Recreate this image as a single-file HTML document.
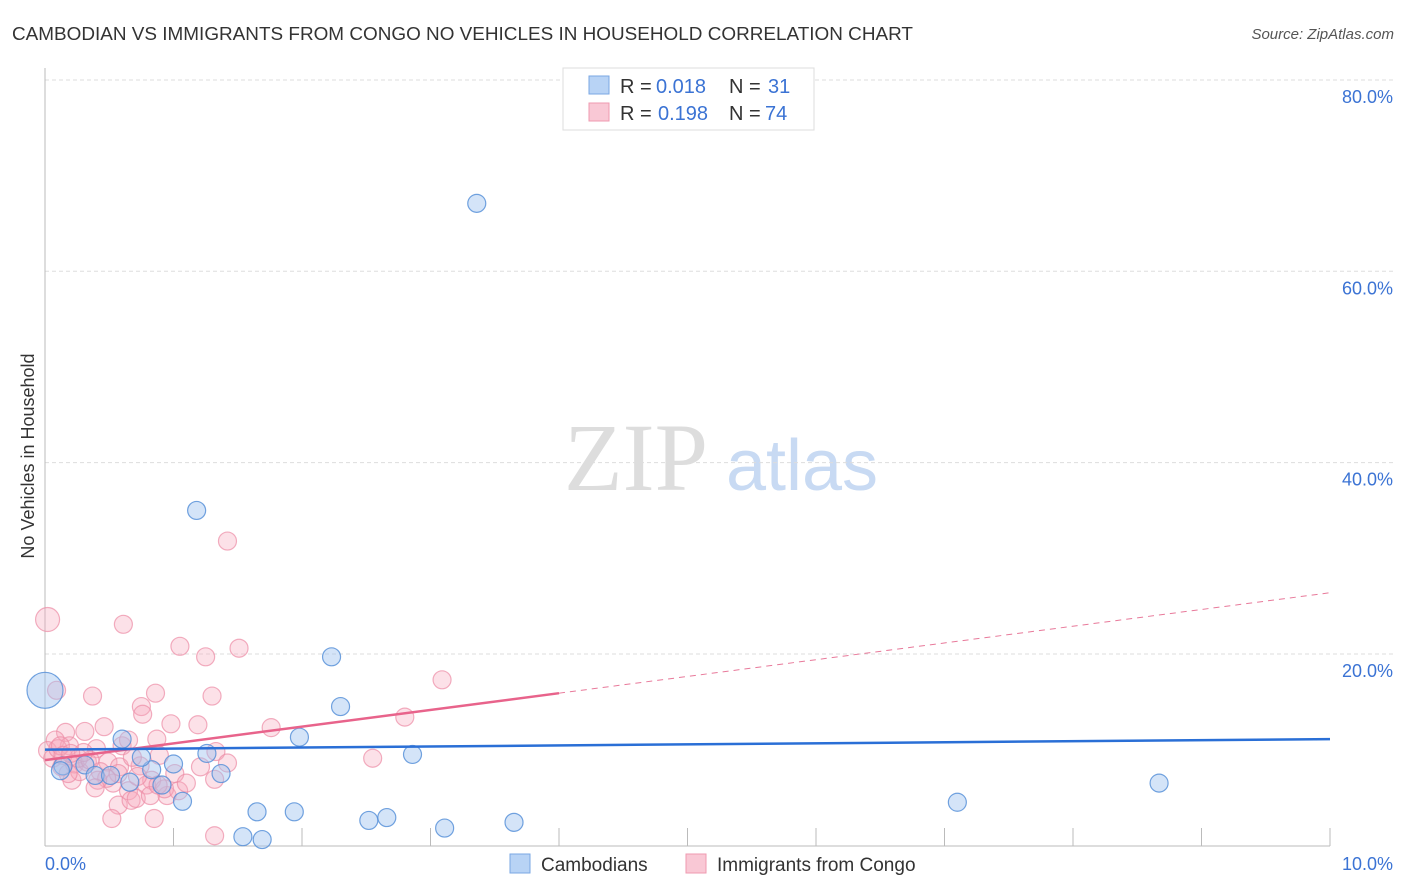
<!DOCTYPE html>
<html><head><meta charset="utf-8"><style>
body{margin:0;background:#fff;font-family:"Liberation Sans",sans-serif;}
svg{display:block}
</style></head><body>
<svg id="chart" width="1406" height="892" xmlns="http://www.w3.org/2000/svg">
<text x="12" y="40" font-size="18" fill="#333" textLength="901" lengthAdjust="spacingAndGlyphs">CAMBODIAN VS IMMIGRANTS FROM CONGO NO VEHICLES IN HOUSEHOLD CORRELATION CHART</text>
<text x="1394" y="39" font-size="15" fill="#555" font-style="italic" text-anchor="end">Source: ZipAtlas.com</text>
<text x="636" y="490" font-size="96" fill="#ddd" font-family="Liberation Serif, serif" text-anchor="middle">ZIP</text>
<text x="802" y="490" font-size="72" fill="#c8daf3" text-anchor="middle">atlas</text>
<text transform="translate(34,456) rotate(-90)" font-size="18" fill="#333" text-anchor="middle">No Vehicles in Household</text>
<g id="grid"></g><g id="marks"></g>
<g>
<rect x="563" y="68" width="251" height="62" fill="#fff" stroke="#ddd"/>
<rect x="589" y="76" width="20" height="18" fill="#b8d3f5" stroke="#7aa7e3"/>
<text x="620" y="93" font-size="20" fill="#333">R =</text>
<text x="656" y="93" font-size="20" fill="#3b73d4">0.018</text>
<text x="729" y="93" font-size="20" fill="#333">N =</text>
<text x="768" y="93" font-size="20" fill="#3b73d4">31</text>
<rect x="589" y="103" width="20" height="18" fill="#f9c8d5" stroke="#ef9ab0"/>
<text x="620" y="120" font-size="20" fill="#333">R =</text>
<text x="658" y="120" font-size="20" fill="#3b73d4">0.198</text>
<text x="729" y="120" font-size="20" fill="#333">N =</text>
<text x="765" y="120" font-size="20" fill="#3b73d4">74</text>
</g>
<g>
<rect x="510" y="854" width="20" height="19" fill="#b8d3f5" stroke="#7aa7e3"/>
<text x="541" y="871" font-size="19" fill="#333">Cambodians</text>
<rect x="686" y="854" width="20" height="19" fill="#f9c8d5" stroke="#ef9ab0"/>
<text x="717" y="871" font-size="19" fill="#333">Immigrants from Congo</text>
</g>
</svg>
<script>
const yTicks=[20,40,60,80];
const yTickLabels=["20.0%","40.0%","60.0%","80.0%"];
const xTicks=[1,2,3,4,5,6,7,8,9,10];
const xEndLabels=["0.0%","10.0%"];
const blueX=[3.36,1.18,2.23,2.30,1.98,2.86,1.26,1.37,1.07,1.65,1.94,2.52,2.66,3.11,3.65,1.54,1.69,7.10,8.67,0.0,0.60,0.83,1.00,0.91,0.14,0.31,0.39,0.51,0.66,0.75,0.12];
const blueY=[67.1,35.0,19.7,14.5,11.3,9.5,9.6,7.5,4.6,3.5,3.5,2.6,2.9,1.8,2.4,0.9,0.6,4.5,6.5,16.2,11.1,7.9,8.5,6.3,8.3,8.4,7.3,7.3,6.6,9.2,7.8];
const pinkX=[0.02,0.61,1.42,1.05,1.25,1.51,3.09,0.09,0.37,0.86,0.75,1.30,0.76,0.98,1.19,1.76,2.80,0.16,0.08,0.31,0.19,0.40,0.46,0.60,0.65,0.87,1.33,2.55,1.32,1.42,1.01,0.83,0.02,0.06,0.13,0.21,0.23,0.33,0.27,0.49,0.53,0.57,0.65,0.67,0.79,0.95,0.52,0.85,1.32,0.10,0.43,0.58,0.18,0.71,0.93,0.26,0.57,0.12,0.35,0.74,0.48,1.21,1.04,0.89,0.41,0.30,0.82,0.68,0.88,0.14,0.39,0.72,1.10,0.20];
const pinkY=[23.6,23.1,31.8,20.8,19.7,20.6,17.3,16.2,15.6,15.9,14.5,15.6,13.7,12.7,12.6,12.3,13.4,11.8,11.0,11.9,10.4,10.1,12.4,10.4,11.0,11.1,9.8,9.1,6.9,8.6,7.5,6.8,9.9,9.1,8.2,6.8,8.5,8.7,7.7,8.7,6.5,4.2,5.7,4.7,6.3,5.2,2.8,2.8,1.0,10.1,7.7,8.2,7.5,4.9,5.9,9.1,7.5,10.4,8.9,8.3,7.0,8.2,5.7,9.4,6.8,9.7,5.2,9.2,6.3,9.4,6.0,7.2,6.5,9.6];
const blueTrend=[10.0,11.1];
const pinkTrend=[8.9,26.4];
const pinkSolidEnd=4.0;
const bigBlue=[19], bigPink=[0];

const X=v=>45+v*128.5;
const Y=v=>845.3-v*9.567;
const NS="http://www.w3.org/2000/svg";
function mk(tag,attrs,parent){const e=document.createElementNS(NS,tag);for(const k in attrs)e.setAttribute(k,attrs[k]);parent.appendChild(e);return e;}
const grid=document.getElementById('grid'),marks=document.getElementById('marks');
yTicks.forEach((t,i)=>{
  const l=mk('line',{x1:45,x2:1393,y1:Y(t),y2:Y(t),stroke:'#ddd','stroke-dasharray':'4,3'},grid);
  
  
  const tx=mk('text',{x:1393,y:Y(t)+23,'font-size':18,fill:'#3b73d4','text-anchor':'end'},grid);
  tx.textContent=yTickLabels[i];
  
  
});
const ax=mk('line',{x1:45,x2:45,y1:68,y2:846,stroke:'#bbb'},grid);


const bx=mk('line',{x1:45,x2:1330,y1:846,y2:846,stroke:'#bbb'},grid);


xTicks.forEach(t=>{
  const l=mk('line',{x1:X(t),x2:X(t),y1:828,y2:846,stroke:'#bbb'},grid);
  
  
});
const xl0=mk('text',{x:45,y:870,'font-size':18,fill:'#3b73d4'},grid);xl0.textContent=xEndLabels[0];


const xl1=mk('text',{x:1393,y:870,'font-size':18,fill:'#3b73d4','text-anchor':'end'},grid);xl1.textContent=xEndLabels[1];


pinkX.forEach((x,i)=>{
  const c=mk('circle',{cx:X(x),cy:Y(pinkY[i]),r:bigPink.includes(i)?12:9,fill:'rgba(246,168,190,0.35)',stroke:'rgba(236,140,165,0.7)','stroke-width':1.2},marks);
  
  
});
blueX.forEach((x,i)=>{
  const c=mk('circle',{cx:X(x),cy:Y(blueY[i]),r:bigBlue.includes(i)?18:9,fill:'rgba(160,196,240,0.45)',stroke:'rgba(80,140,215,0.8)','stroke-width':1.2},marks);
  
  
});
const pAt=x=>pinkTrend[0]+(pinkTrend[1]-pinkTrend[0])*x/10;
const pd=mk('line',{x1:X(pinkSolidEnd),y1:Y(pAt(pinkSolidEnd)),x2:X(10),y2:Y(pinkTrend[1]),stroke:'#e8799a','stroke-width':1,'stroke-dasharray':'6,5'},marks);


const ps=mk('line',{x1:X(0),y1:Y(pinkTrend[0]),x2:X(pinkSolidEnd),y2:Y(pAt(pinkSolidEnd)),stroke:'#e8638b','stroke-width':2.5},marks);


const bl=mk('line',{x1:X(0),y1:Y(blueTrend[0]),x2:X(10),y2:Y(blueTrend[1]),stroke:'#2a6fd6','stroke-width':2.5},marks);


</script>
</body></html>
